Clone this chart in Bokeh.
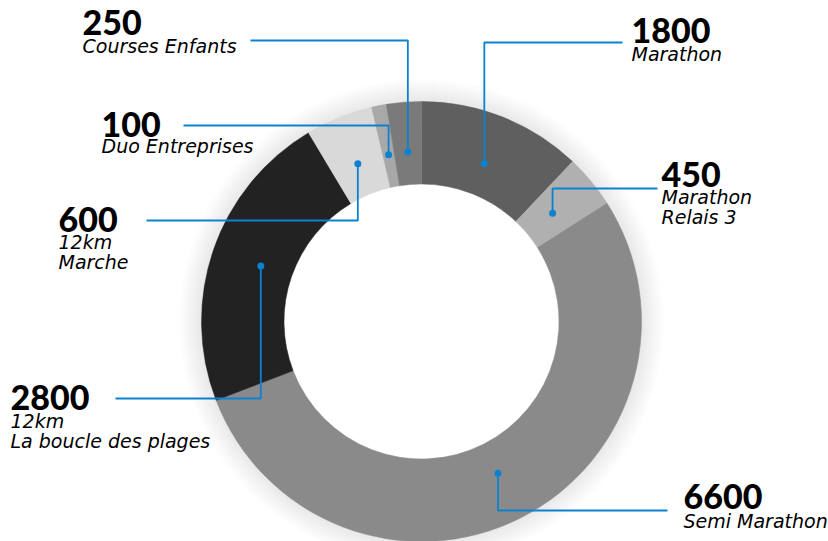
import numpy as np
from bokeh.plotting import figure
from bokeh.models import Range1d, ColumnDataSource
from bokeh.core.properties import value
from bokeh.embed import file_html
from bokeh.resources import INLINE

# ---- data ----
categories = ["Marathon", "Marathon\nRelais 3", "Semi Marathon",
              "12km\nLa boucle des plages", "12km\nMarche",
              "Duo Entreprises", "Courses Enfants"]
values = [1800, 450, 6600, 2800, 600, 100, 250]
# share of the ring taken by each slice (percent)
shares = [12.05, 3.92, 53.2, 22.25, 4.94, 1.08, 2.56]

# ---- style / layout ----
colors = ["#5f5f5f", "#b0b0b0", "#8a8a8a", "#222222", "#d9d9d9", "#a8a8a8", "#7a7a7a"]
BLUE = "#0b82cf"
W, H = 828, 541
CX, CY = 421, H - 321
R_OUT, R_IN, R_DOT = 220, 137.5, 170
NUM_SHIFT = 10   # compensation for text baseline placement
SUB_SHIFT = 7

# label layout in pixel coords (top-left origin):
# text x, number baseline, first sub-line baseline, leader line y, leader line end x
label_layout = [
    (631, 40, 60, 42, 622),
    (661, 184, 203, 188, 657),
    (683, 506, 527, 510, 667),
    (10, 407, 427, 398, 115),
    (58, 229, 248, 220, 146),
    (101, 134, 152, 125, 183),
    (82, 32, 52, 40, 250),
]
LINE_GAP = 20

p = figure(width=W, height=H, x_range=Range1d(0, W), y_range=Range1d(0, H),
           output_backend="svg", toolbar_location=None,
           x_axis_location=None, y_axis_location=None, min_border=0)
p.grid.visible = False
p.outline_line_color = None
p.background_fill_color = "white"

# soft shadow around ring
for k in range(1, 24):
    p.annulus(x=CX, y=CY, inner_radius=R_OUT - 30, outer_radius=R_OUT + k,
              fill_color="black", fill_alpha=0.0055, line_color=None)

sh = np.array(shares, dtype=float)
deg = sh / sh.sum() * 360.0
ends = np.cumsum(deg)
starts = ends - deg
mids = (starts + ends) / 2

src = ColumnDataSource(dict(
    start=np.radians(90 - starts), end=np.radians(90 - ends), color=colors))
p.annular_wedge(x=CX, y=CY, inner_radius=R_IN, outer_radius=R_OUT,
                start_angle="start", end_angle="end", direction="clock",
                fill_color="color", line_color="color", line_width=0.5, source=src)

# leader lines and dots
dx = CX + R_DOT * np.sin(np.radians(mids))
dy = CY + R_DOT * np.cos(np.radians(mids))
xs, ys = [], []
for i, lay in enumerate(label_layout):
    ly = H - lay[3]
    xs.append([dx[i], dx[i], lay[4]])
    ys.append([dy[i], ly, ly])
p.multi_line(xs=xs, ys=ys, line_color=BLUE, line_width=1.8)
p.scatter(x=dx, y=dy, size=7, fill_color=BLUE, line_color=None)

# texts
nx, ny, nt = [], [], []
sx, sy, st = [], [], []
for i, lay in enumerate(label_layout):
    nx.append(lay[0]); ny.append(H - lay[1] + NUM_SHIFT); nt.append(str(values[i]))
    for j, line in enumerate(categories[i].split("\n")):
        sx.append(lay[0]); sy.append(H - (lay[2] + j * LINE_GAP) + SUB_SHIFT); st.append(line)

p.text(x=nx, y=ny, text=nt, text_font=value("Lato Black"), text_font_size="34px",
       text_color="#000000", text_baseline="alphabetic", text_align="left")
p.text(x=sx, y=sy, text=st, text_font=value("DejaVu Sans"), text_font_style="italic",
       text_font_size="19px", text_color="#000000", text_baseline="alphabetic",
       text_align="left")

open("out.html", "w").write(file_html(p, INLINE))
